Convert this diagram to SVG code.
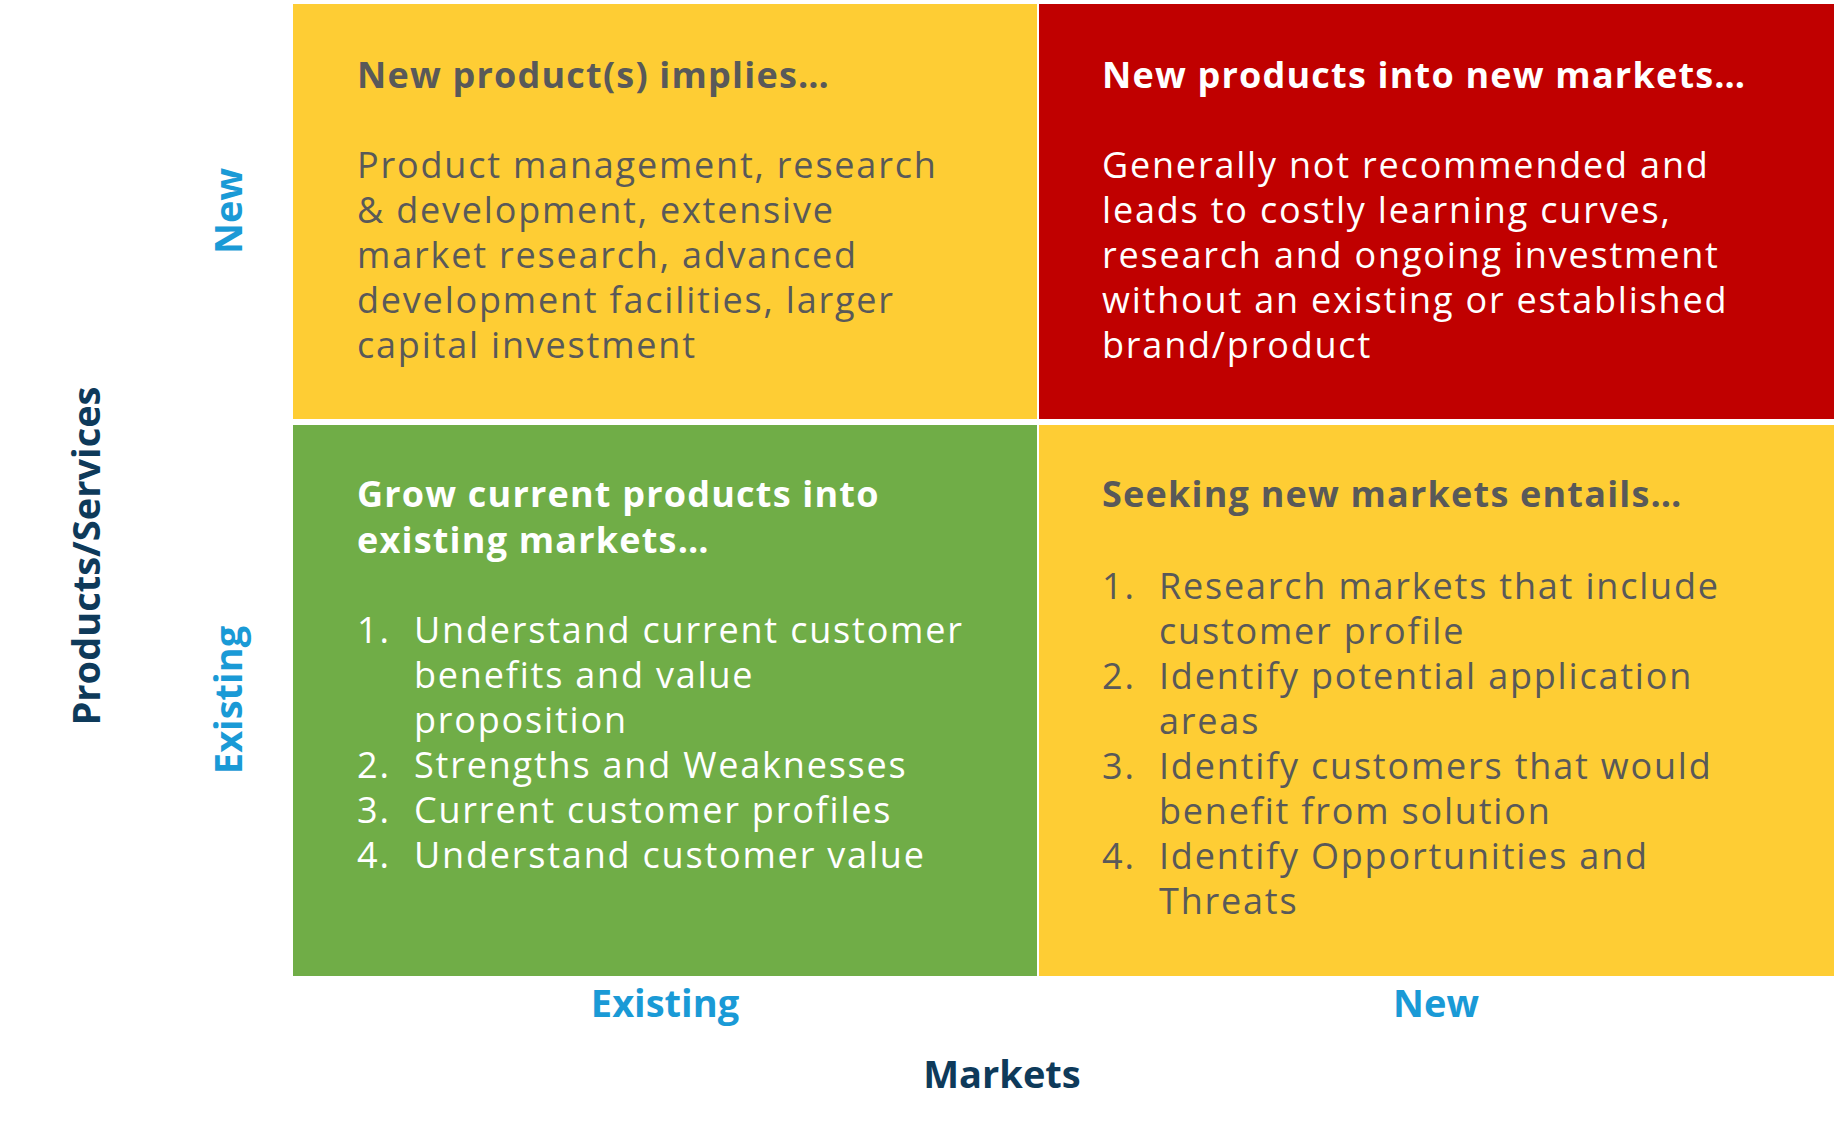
<svg xmlns="http://www.w3.org/2000/svg" width="1837" height="1122" viewBox="0 0 1837 1122">
<style>
text{font-family:"Open Sans","Liberation Sans",sans-serif}
.t{font-size:36px;font-weight:bold;letter-spacing:1.2px}
.b{font-size:36px;letter-spacing:1.8px}
.g{fill:#595959}.w{fill:#ffffff}
.ax{font-size:38px;font-weight:bold;fill:#1a9ad6;text-anchor:middle}
.ax2{font-size:38px;font-weight:bold;fill:#0e3a5a;text-anchor:middle}
</style>
<rect width="1837" height="1122" fill="#fff"/>
<g id="q-new-existing">
<rect x="293" y="4" width="744" height="415" fill="#fecd34"/>
<text class="t g" x="357" y="88">New product(s) implies…</text>
<text class="b g"><tspan x="357" y="178">Product management, research</tspan><tspan x="357" y="223">&amp; development, extensive</tspan><tspan x="357" y="268">market research, advanced</tspan><tspan x="357" y="313">development facilities, larger</tspan><tspan x="357" y="358">capital investment</tspan></text>
</g>
<g id="q-new-new">
<rect x="1039" y="4" width="795" height="415" fill="#c00000"/>
<text class="t w" x="1102" y="88">New products into new markets…</text>
<text class="b w"><tspan x="1102" y="178">Generally not recommended and</tspan><tspan x="1102" y="223">leads to costly learning curves,</tspan><tspan x="1102" y="268">research and ongoing investment</tspan><tspan x="1102" y="313">without an existing or established</tspan><tspan x="1102" y="358">brand/product</tspan></text>
</g>
<g id="q-existing-existing">
<rect x="293" y="425" width="744" height="551" fill="#70ad47"/>
<text class="t w"><tspan x="357" y="507">Grow current products into</tspan><tspan x="357" y="553">existing markets…</tspan></text>
<text class="b w"><tspan x="357" y="643">1.</tspan><tspan x="414" y="643">Understand current customer</tspan><tspan x="414" y="688">benefits and value</tspan><tspan x="414" y="733">proposition</tspan><tspan x="357" y="778">2.</tspan><tspan x="414" y="778">Strengths and Weaknesses</tspan><tspan x="357" y="823">3.</tspan><tspan x="414" y="823">Current customer profiles</tspan><tspan x="357" y="868">4.</tspan><tspan x="414" y="868">Understand customer value</tspan></text>
</g>
<g id="q-existing-new">
<rect x="1039" y="425" width="795" height="551" fill="#fecd34"/>
<text class="t g" x="1102" y="507">Seeking new markets entails…</text>
<text class="b g"><tspan x="1102" y="599">1.</tspan><tspan x="1159" y="599">Research markets that include</tspan><tspan x="1159" y="644">customer profile</tspan><tspan x="1102" y="689">2.</tspan><tspan x="1159" y="689">Identify potential application</tspan><tspan x="1159" y="734">areas</tspan><tspan x="1102" y="779">3.</tspan><tspan x="1159" y="779">Identify customers that would</tspan><tspan x="1159" y="824">benefit from solution</tspan><tspan x="1102" y="869">4.</tspan><tspan x="1159" y="869">Identify Opportunities and</tspan><tspan x="1159" y="914">Threats</tspan></text>
</g>
<g id="axes">
<text class="ax" x="665" y="1017">Existing</text>
<text class="ax" x="1436" y="1017">New</text>
<text class="ax2" x="1002" y="1088">Markets</text>
<text class="ax" transform="translate(242,211) rotate(-90)">New</text>
<text class="ax" transform="translate(242,700) rotate(-90)">Existing</text>
<text class="ax2" transform="translate(100,556) rotate(-90)">Products/Services</text>
</g>
</svg>
